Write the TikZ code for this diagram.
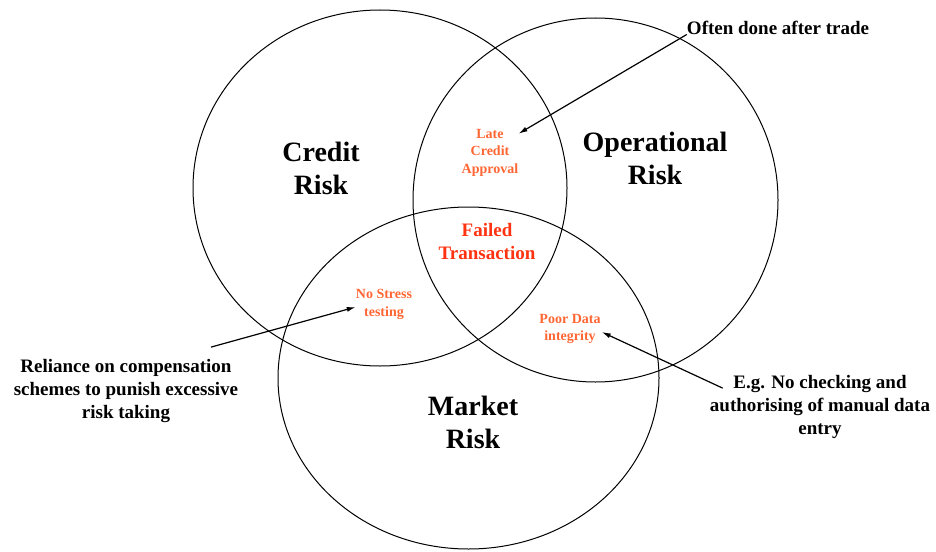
\documentclass[tikz,border=0pt]{standalone}
\usepackage{fontspec}
\setmainfont{Liberation Serif}[BoldFont={Liberation Serif Bold}]
\usepackage{tikz}
\usepackage{xcolor}
\usetikzlibrary{positioning,arrows.meta}

\definecolor{subred}{HTML}{FF6633}
\definecolor{failred}{HTML}{FF3311}

\tikzset{
	riskname/.style={align=center,inner sep=0pt,font=\fontsize{28}{33}\selectfont\bfseries},
	cause/.style={align=center,inner sep=0pt,text=subred,font=\fontsize{14}{17.5}\selectfont\bfseries},
	remark/.style={align=center,inner sep=0pt,font=\fontsize{19}{23}\selectfont\bfseries},
	pointer/.style={line width=1.2pt,-{Latex[length=9pt,width=5pt]}}
}

\begin{document}
\begin{tikzpicture}[x=1pt,y=-1pt]
				\useasboundingbox (0,0) rectangle (936,551);
				\draw[line width=1pt] (380,188) ellipse [x radius=187pt, y radius=178pt];
				\draw[line width=1pt] (595.5,200) ellipse [x radius=182.5pt, y radius=182pt];
				\draw[line width=1pt] (468.5,378) ellipse [x radius=190.5pt, y radius=171pt];
				\node[riskname] (credit) at (321,168) {Credit\\Risk};
				\node[riskname] (oper) at (655,158.5) {Operational\\Risk};
				\node[riskname] (market) at (473,422) {Market\\Risk};
				\node[cause] (late) at (490,152.5) {Late\\Credit\\Approval};
				\node[align=center,inner sep=0pt,text=failred,font=\fontsize{19}{23}\selectfont\bfseries] (failed) at (487,241.5) {Failed\\Transaction};
				\node[cause] (nostress) at (384,304.5) {No Stress\\testing};
				\node[cause] (poordata) at (570,329) {Poor Data\\integrity};
				\node[remark] (often) at (778,27.5) {Often done after trade};
				\node[remark] (reliance) at (126,391) {Reliance on compensation\\schemes to punish excessive\\risk taking};
				\node[remark] (eg) at (820,407) {E.g. No checking and\\authorising of manual data\\entry};
	%			arrow ends
				\coordinate (lateTip) at ([yshift=-5pt]late.north east);
				\coordinate (relianceFoot) at ([xshift=85pt,yshift=12pt]reliance.north);
				\coordinate (egFoot) at ([xshift=13pt,yshift=-13pt]eg.north west);
				\draw[pointer] (often.south west) -- (lateTip);
				\draw[pointer] (relianceFoot) -- ([yshift=-2.5pt]nostress.west);
				\draw[pointer] (egFoot) -- ([xshift=1pt,yshift=-3pt]poordata.east);
			\end{tikzpicture}
\end{document}
